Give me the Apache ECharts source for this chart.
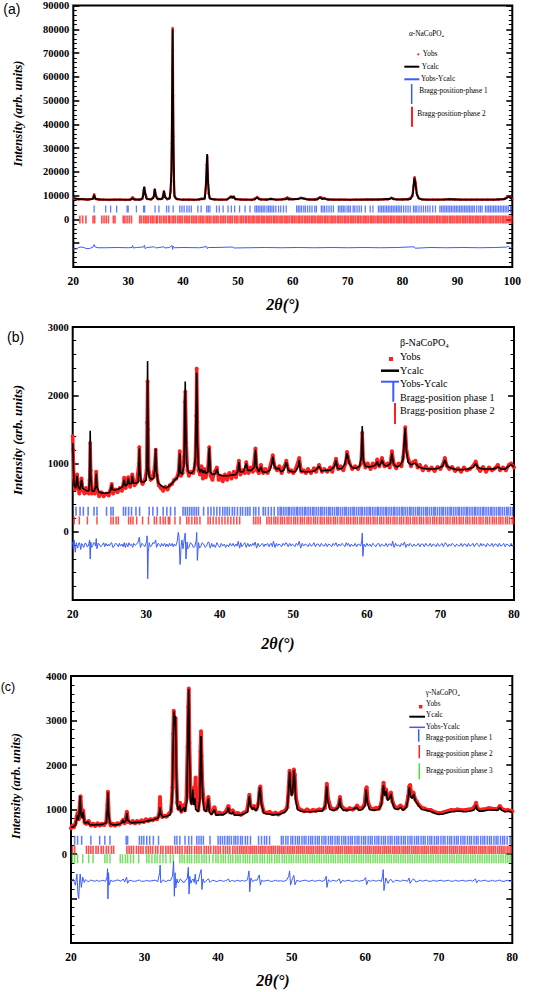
<!DOCTYPE html>
<html><head><meta charset="utf-8">
<script src="https://cdn.jsdelivr.net/npm/echarts@6/dist/echarts.min.js"></script>
<style>html,body{margin:0;padding:0;background:#fff}#c{width:543px;height:992px}</style>
</head><body><div id="c"></div>
<script>
// ---------------- Panel (a) alpha-NaCoPO4 ----------------
const aXMax = 100;
const aCalc = [[20,9000],[20.5,8800],[21,8600],[22,8500],[23,8400],[23.6,8700],[23.8,10400],[24.0,8700],[25,8400],[27,8300],[29,8300],[30.6,8400],[30.8,9000],[31.0,8400],[32.4,8400],[32.7,9500],[32.9,13700],[33.1,11000],[33.3,8800],[34.0,8400],[34.6,9000],[34.85,12900],[35.0,10500],[35.2,8800],[36.0,8500],[36.3,9000],[36.55,12000],[36.75,9200],[37.2,8600],[37.6,9000],[37.9,20000],[38.1,80000],[38.25,30000],[38.4,10000],[38.7,8700],[39.5,8400],[41,8300],[42.5,8300],[43.3,8600],[43.5,8400],[44.0,9000],[44.25,18000],[44.4,27500],[44.55,16000],[44.8,9000],[45.3,8500],[46.5,8300],[48.0,8400],[48.6,9200],[48.8,9600],[49.0,9000],[49.2,9600],[49.5,8600],[51,8300],[53.0,8300],[53.5,9300],[53.8,8500],[55.5,8400],[56,8600],[57,8300],[58.8,8500],[59.0,9100],[59.2,8400],[61.0,8600],[61.5,9000],[62.0,8800],[62.5,8400],[64.5,8400],[65.0,9300],[65.3,8600],[65.8,8800],[66.2,8400],[68,8300],[70,8300],[72,8300],[74,8400],[76,8400],[77.8,8700],[78.0,9000],[78.3,8500],[80,8400],[81.5,8600],[81.9,11000],[82.15,17500],[82.35,15000],[82.6,10500],[83.0,8800],[83.5,8400],[85,8300],[87,8300],[89,8500],[91,8300],[93,8300],[95,8300],[97,8400],[98.5,8500],[99.0,9000],[99.3,9600],[99.6,9200],[100,8500]];
const aObs = [[20,8900],[20.5,8600],[21,8400],[21.5,8600],[22,8500],[22.5,8300],[23,8500],[23.5,8700],[23.8,10600],[24.1,8600],[24.6,8300],[25.5,8400],[26.5,8200],[27.5,8300],[28.5,8400],[29.5,8200],[30.3,8300],[30.8,9300],[31.3,8400],[32.0,8300],[32.6,8700],[32.85,12500],[32.95,13400],[33.15,10500],[33.5,8600],[34.2,8400],[34.7,9800],[34.85,12600],[35.05,10000],[35.5,8500],[36.2,8700],[36.5,11800],[36.7,9600],[37.1,8500],[37.5,8800],[37.8,12000],[37.95,32000],[38.0,48000],[38.05,63000],[38.1,80500],[38.15,71000],[38.2,52000],[38.25,35000],[38.35,16000],[38.5,9500],[39.0,8500],[40.0,8300],[41.0,8400],[42.0,8200],[43.0,8400],[43.4,8800],[43.9,8600],[44.15,13000],[44.3,23000],[44.4,26500],[44.5,19000],[44.65,11000],[45.0,8700],[45.8,8400],[47.0,8300],[48.0,8400],[48.7,9700],[49.0,9200],[49.2,9700],[49.6,8500],[50.5,8300],[51.5,8400],[52.5,8200],[53.5,9400],[54.2,8400],[55.2,8300],[56.0,8700],[57.0,8300],[58.0,8400],[59.0,9200],[60.0,8500],[61.0,8700],[61.5,9100],[62.0,8900],[63.0,8400],[64.0,8300],[65.0,9400],[65.8,8900],[66.5,8400],[67.5,8300],[68.5,8400],[69.5,8300],[70.5,8200],[71.5,8400],[72.5,8300],[73.5,8400],[74.5,8300],[75.5,8400],[76.5,8500],[77.3,8400],[78.0,9100],[79.0,8400],[80.0,8500],[81.0,8400],[81.8,9800],[82.0,14000],[82.2,17800],[82.4,15500],[82.6,11000],[82.9,9000],[83.5,8500],[84.5,8300],[85.5,8400],[86.5,8300],[87.5,8400],[88.5,8600],[89.5,8400],[90.5,8300],[91.5,8400],[92.5,8300],[93.5,8400],[94.5,8300],[95.5,8400],[96.5,8300],[97.5,8400],[98.5,8600],[99.2,9700],[99.6,9300],[100,8600]];
const aDiff = [[20,-12300],[20.5,-12500],[21,-11800],[21.5,-11600],[22,-11900],[22.5,-12300],[23,-12200],[23.6,-11600],[23.8,-10600],[24.0,-11600],[24.5,-11900],[26,-11900],[28,-11800],[30,-11900],[30.7,-11800],[30.8,-11000],[30.95,-12000],[31.5,-11800],[32.8,-11600],[32.95,-10900],[33.1,-12300],[33.4,-11800],[34.8,-11500],[35,-12000],[36.5,-11500],[36.7,-12000],[37.5,-11800],[38.0,-11000],[38.1,-12600],[38.2,-11200],[38.4,-11900],[40,-11800],[43,-11900],[44.3,-11400],[44.45,-12300],[44.6,-11800],[46,-11800],[49,-11600],[49.3,-12000],[52,-11900],[55,-11800],[58,-11900],[61,-11800],[64,-11900],[67,-11800],[70,-11900],[73,-11800],[76,-11900],[79,-11800],[82.1,-11500],[82.3,-12100],[85,-11800],[88,-11900],[91,-11800],[94,-11900],[97,-11800],[99,-11600],[99.3,-11200],[99.6,-12000],[100,-11800]];
const aBragg1 = [23.8,25.9,26.8,27.9,29.8,30.0,31.5,32.8,33.0,34.9,35.6,37.0,37.4,38.2,39.4,39.8,40.2,40.7,41.1,41.5,42.7,43.3,44.3,44.6,44.9,46.1,46.6,47.3,48.2,48.8,49.4,50.3,51.3,52.2,53.1,53.4,53.7,54.0,54.3,54.6,54.9,55.3,55.6,55.9,56.2,56.5,56.9,57.4,57.8,58.3,58.8,60.7,61.0,61.3,61.6,62.0,62.3,62.7,63.1,63.5,64.0,64.3,65.2,65.5,65.8,66.2,66.6,67.0,67.4,68.3,68.6,68.9,69.2,69.5,69.9,70.2,70.5,71.0,71.3,71.7,72.1,72.5,73.2,74.1,74.6,75.6,75.9,76.2,76.5,76.8,77.1,77.4,77.7,78.0,78.3,78.6,78.9,79.2,79.5,79.8,80.2,80.6,81.0,81.4,82.0,82.3,82.6,83.0,83.4,83.8,84.2,84.6,85.0,85.5,86.0,86.8,87.1,87.4,87.7,88.0,88.3,88.6,88.9,89.2,89.5,89.8,90.1,90.4,90.7,91.0,91.3,91.6,91.9,92.2,92.5,92.8,93.1,93.5,93.9,94.2,94.5,95.1,95.4,95.7,96.0,96.3,96.6,96.9,97.2,97.5,97.8,98.1,98.4,98.7,99.0,99.3,99.7];
const aBragg2 = [21.2,21.7,22.3,23.6,23.9,25.2,25.6,26.0,26.4,27.3,27.6,29.1,29.4,29.8,30.2,30.6,32.1,32.4,32.8,33.1,33.4,33.7,34.1,34.4,34.7,35.1,35.3,35.7,36.0,36.4,36.7,37.0,37.4,37.6,38.0,38.3,38.6,39.0,39.3,39.6,39.9,40.3,40.6,40.9,41.2,41.6,41.9,42.2,42.5,42.9,43.2,43.5,43.8,44.2,44.5,44.8,45.1,45.5,45.8,46.1,46.4,46.8,47.1,47.4,47.7,48.1,48.4,48.7,49.0,49.4,49.7,50.0,50.4,50.7,51.0,51.35,51.6,51.95,52.2,52.55,52.8,53.1,53.45,53.7,54.0,54.35,54.6,54.9,55.25,55.5,55.8,56.1,56.45,56.7,57.0,57.3,57.65,57.9,58.2,58.55,58.8,59.1,59.4,59.75,60.0,60.3,60.6,60.95,61.2,61.5,61.8,62.15,62.4,62.7,63.0,63.35,63.6,63.9,64.2,64.55,64.8,65.1,65.4,65.75,66.0,66.3,66.6,66.95,67.2,67.5,67.8,68.15,68.4,68.7,69.0,69.35,69.6,69.9,70.2,70.55,70.8,71.1,71.4,71.75,72.0,72.3,72.6,72.95,73.2,73.5,73.8,74.15,74.4,74.7,75.0,75.35,75.6,75.9,76.2,76.55,76.8,77.1,77.4,77.75,78.0,78.3,78.6,78.95,79.2,79.5,79.8,80.15,80.4,80.7,81.0,81.35,81.6,81.9,82.2,82.55,82.8,83.1,83.4,83.75,84.0,84.3,84.6,84.95,85.2,85.5,85.8,86.15,86.4,86.7,87.0,87.35,87.6,87.9,88.2,88.55,88.8,89.1,89.4,89.75,90.0,90.3,90.6,90.95,91.2,91.5,91.8,92.15,92.4,92.7,93.0,93.35,93.6,93.9,94.2,94.55,94.8,95.1,95.4,95.75,96.0,96.3,96.6,96.95,97.2,97.5,97.8,98.15,98.4,98.7,99.0,99.35,99.6,99.9];

// ---------------- Panel (b) beta-NaCoPO4 ----------------
const bCalc = [[20.0,1300],[20.1,900],[20.2,680],[20.4,640],[20.6,820],[20.75,660],[21.0,620],[21.2,760],[21.35,640],[21.6,620],[21.9,600],[22.2,600],[22.3,800],[22.38,1480],[22.46,800],[22.6,600],[22.9,590],[23.1,650],[23.2,850],[23.3,650],[23.6,580],[24.0,570],[24.5,565],[25.0,575],[25.2,620],[25.3,690],[25.4,620],[25.8,610],[26.3,630],[26.8,660],[27.0,760],[27.15,670],[27.4,690],[27.55,780],[27.7,700],[28.0,710],[28.1,820],[28.25,710],[28.6,710],[28.9,730],[29.0,900],[29.06,1220],[29.13,900],[29.3,730],[29.7,730],[30.0,760],[30.1,950],[30.18,2500],[30.27,950],[30.4,800],[30.7,770],[31.0,780],[31.15,900],[31.28,1220],[31.38,900],[31.6,720],[32.0,680],[32.4,650],[32.7,645],[33.0,660],[33.3,690],[33.6,720],[33.9,760],[34.2,790],[34.4,830],[34.55,1150],[34.65,870],[34.9,840],[35.15,1000],[35.3,2200],[35.38,1500],[35.5,1000],[35.7,880],[35.9,860],[36.2,860],[36.5,900],[36.7,1100],[36.86,2330],[36.95,1300],[37.1,950],[37.3,870],[37.5,920],[37.7,860],[37.9,900],[38.1,850],[38.4,880],[38.57,1230],[38.7,880],[39.0,840],[39.4,850],[39.6,920],[39.8,840],[40.3,820],[41.0,820],[41.6,830],[42.2,840],[42.5,900],[42.6,1020],[42.75,880],[43.2,880],[43.6,1000],[43.8,900],[44.3,900],[44.7,950],[44.85,1200],[45.0,950],[45.3,880],[45.6,950],[45.8,880],[46.3,870],[46.8,900],[47.1,1000],[47.2,1100],[47.4,970],[47.7,920],[48.0,930],[48.3,880],[48.7,900],[49.05,1020],[49.3,900],[49.8,880],[50.3,880],[50.7,960],[50.8,1050],[50.95,890],[51.5,880],[52.2,880],[52.9,890],[53.5,960],[53.8,890],[54.4,900],[55.0,900],[55.6,960],[55.8,1050],[56.0,930],[56.5,920],[57.0,990],[57.3,1150],[57.6,1000],[58.0,940],[58.5,930],[59.0,960],[59.25,1100],[59.37,1550],[59.5,1050],[59.8,960],[60.3,950],[60.8,960],[61.2,980],[61.4,1030],[61.6,960],[61.9,1000],[62.05,1050],[62.3,980],[62.7,960],[63.2,1000],[63.4,1150],[63.6,1000],[64.0,950],[64.5,970],[64.9,1050],[65.1,1350],[65.2,1520],[65.35,1200],[65.6,1020],[66.0,980],[66.4,1000],[66.6,1000],[67.0,950],[67.6,930],[68.3,920],[69.0,920],[69.7,930],[70.3,960],[70.6,1050],[70.9,960],[71.5,930],[72.2,910],[73.0,910],[73.8,920],[74.5,950],[74.8,1000],[75.1,940],[75.8,920],[76.5,920],[77.3,920],[77.8,950],[78.2,920],[78.8,920],[79.3,960],[79.6,980],[80.0,950]];
const bObs = [[20.0,1400],[20.05,1200],[20.15,800],[20.3,620],[20.45,700],[20.6,840],[20.75,640],[20.9,560],[21.05,640],[21.2,780],[21.4,600],[21.6,560],[21.8,640],[22.0,580],[22.2,560],[22.3,760],[22.38,1300],[22.45,900],[22.6,560],[22.8,620],[23.0,560],[23.2,880],[23.35,600],[23.6,520],[23.9,580],[24.2,520],[24.6,560],[24.9,530],[25.1,600],[25.3,700],[25.5,560],[25.8,620],[26.1,580],[26.4,640],[26.7,600],[27.0,790],[27.2,640],[27.55,800],[27.8,660],[28.1,840],[28.4,680],[28.7,720],[29.0,1000],[29.06,1240],[29.2,760],[29.5,700],[29.8,760],[30.05,900],[30.12,1600],[30.18,2200],[30.25,1500],[30.35,880],[30.6,760],[30.9,800],[31.15,960],[31.28,1200],[31.45,820],[31.7,680],[32.0,640],[32.3,600],[32.6,660],[32.9,620],[33.2,680],[33.5,700],[33.8,760],[34.1,780],[34.4,880],[34.55,1180],[34.7,820],[34.95,860],[35.15,1100],[35.25,1900],[35.32,2050],[35.45,1300],[35.6,900],[35.8,820],[36.1,880],[36.4,860],[36.65,1000],[36.8,1700],[36.86,2390],[36.95,1600],[37.1,900],[37.3,840],[37.5,960],[37.7,780],[37.9,920],[38.1,800],[38.35,900],[38.57,1240],[38.75,820],[39.0,760],[39.3,880],[39.6,940],[39.85,760],[40.1,820],[40.4,740],[40.7,840],[41.0,760],[41.3,860],[41.6,780],[41.9,880],[42.2,800],[42.6,1040],[42.8,840],[43.1,900],[43.4,860],[43.6,1020],[43.9,860],[44.2,940],[44.5,880],[44.85,1220],[45.05,900],[45.3,860],[45.6,980],[45.9,860],[46.2,920],[46.5,860],[46.8,940],[47.2,1120],[47.5,940],[47.8,900],[48.1,960],[48.4,860],[48.7,940],[49.05,1040],[49.4,880],[49.7,900],[50.0,860],[50.3,920],[50.8,1080],[51.1,880],[51.4,900],[51.7,860],[52.0,920],[52.4,860],[52.8,930],[53.1,880],[53.5,980],[53.9,880],[54.2,920],[54.6,880],[55.0,940],[55.3,880],[55.8,1070],[56.1,920],[56.4,960],[56.8,900],[57.1,1000],[57.3,1170],[57.6,1020],[58.0,920],[58.4,960],[58.8,920],[59.2,1000],[59.37,1450],[59.5,1060],[59.8,940],[60.1,1000],[60.5,920],[60.8,1000],[61.1,940],[61.4,1060],[61.7,960],[62.05,1080],[62.4,960],[62.8,1000],[63.1,940],[63.4,1180],[63.7,980],[64.0,930],[64.3,1000],[64.7,960],[64.95,1100],[65.15,1400],[65.22,1530],[65.4,1180],[65.7,1040],[66.0,960],[66.3,1020],[66.6,1040],[66.9,940],[67.2,980],[67.6,900],[68.0,960],[68.4,900],[68.8,940],[69.2,890],[69.6,950],[70.0,920],[70.3,980],[70.6,1080],[70.9,960],[71.2,920],[71.6,950],[72.0,890],[72.4,930],[72.8,880],[73.2,940],[73.6,900],[74.0,920],[74.4,960],[74.8,1030],[75.1,930],[75.4,890],[75.8,950],[76.2,880],[76.6,940],[77.0,900],[77.4,930],[77.8,980],[78.1,900],[78.5,940],[78.9,900],[79.3,980],[79.6,1000],[80,940]];
const bDiff = [[20,-150],[20.1,-250],[20.2,-120],[20.35,-300],[20.5,-160],[20.6,-220],[20.7,-240],[20.8,-170],[20.9,-160],[21.0,-200],[21.1,-260],[21.2,-170],[21.3,-180],[21.4,-210],[21.5,-230],[21.65,-170],[21.8,-170],[21.95,-220],[22.1,-210],[22.2,-170],[22.3,-120],[22.38,-400],[22.46,-150],[22.55,-230],[22.7,-210],[22.85,-160],[23.0,-170],[23.1,-210],[23.2,-100],[23.3,-250],[23.45,-170],[23.6,-180],[23.8,-220],[24,-200],[24.2,-160],[24.35,-220],[24.5,-170],[24.7,-210],[24.85,-180],[25,-210],[25.15,-170],[25.3,-160],[25.45,-230],[25.6,-220],[25.8,-170],[26,-180],[26.2,-220],[26.35,-170],[26.5,-210],[26.7,-180],[26.85,-220],[27,-160],[27.15,-230],[27.3,-170],[27.5,-220],[27.65,-160],[27.8,-200],[28,-180],[28.15,-230],[28.3,-170],[28.5,-200],[28.7,-180],[28.9,-150],[29.06,-80],[29.2,-230],[29.4,-170],[29.6,-190],[29.8,-220],[29.95,-170],[30.05,-150],[30.12,-60],[30.2,-690],[30.28,-300],[30.4,-160],[30.55,-220],[30.7,-210],[30.9,-160],[31.1,-170],[31.28,-120],[31.4,-230],[31.6,-170],[31.8,-190],[31.95,-220],[32.1,-170],[32.3,-210],[32.5,-170],[32.65,-220],[32.8,-180],[33.0,-220],[33.15,-170],[33.3,-210],[33.5,-170],[33.65,-220],[33.8,-180],[34.0,-210],[34.2,-150],[34.35,-10],[34.45,-60],[34.6,-480],[34.75,-200],[34.85,-120],[35.0,-250],[35.2,-80],[35.3,-20],[35.4,-400],[35.55,-150],[35.65,-250],[35.8,-230],[36.0,-160],[36.2,-180],[36.4,-230],[36.6,-220],[36.8,-120],[36.86,-10],[36.95,-420],[37.1,-160],[37.25,-240],[37.4,-220],[37.6,-160],[37.8,-180],[38.0,-230],[38.2,-210],[38.35,-160],[38.5,-150],[38.7,-240],[38.9,-170],[39.05,-220],[39.2,-190],[39.4,-230],[39.6,-160],[39.8,-200],[40.0,-230],[40.2,-170],[40.4,-210],[40.6,-180],[40.8,-230],[41,-190],[41.2,-220],[41.4,-170],[41.6,-210],[41.8,-170],[42.0,-220],[42.2,-180],[42.35,-210],[42.5,-140],[42.7,-240],[42.85,-160],[43.0,-220],[43.2,-190],[43.4,-160],[43.6,-230],[43.8,-170],[44.0,-220],[44.15,-180],[44.3,-210],[44.5,-170],[44.65,-200],[44.8,-150],[45.0,-240],[45.2,-170],[45.4,-220],[45.6,-190],[45.8,-170],[46.0,-220],[46.15,-180],[46.3,-200],[46.5,-170],[46.7,-220],[46.85,-180],[47.0,-170],[47.15,-220],[47.3,-140],[47.5,-230],[47.7,-170],[47.85,-210],[48.0,-180],[48.2,-190],[48.4,-220],[48.6,-170],[48.8,-200],[49,-160],[49.15,-180],[49.3,-220],[49.5,-170],[49.7,-210],[49.85,-180],[50,-190],[50.2,-220],[50.4,-170],[50.6,-200],[50.8,-140],[51,-240],[51.2,-170],[51.4,-210],[51.6,-180],[51.8,-190],[52.0,-220],[52.2,-170],[52.4,-210],[52.6,-200],[52.8,-160],[53.0,-220],[53.2,-180],[53.4,-180],[53.6,-220],[53.8,-170],[54.0,-200],[54.2,-210],[54.4,-170],[54.6,-220],[54.8,-180],[55,-190],[55.2,-220],[55.4,-170],[55.6,-200],[55.8,-160],[56,-220],[56.2,-180],[56.4,-210],[56.6,-170],[56.8,-190],[57.0,-220],[57.2,-160],[57.35,-200],[57.5,-170],[57.7,-220],[57.9,-180],[58.0,-200],[58.2,-210],[58.4,-170],[58.6,-220],[58.8,-180],[59,-190],[59.15,-210],[59.3,-130],[59.37,-20],[59.45,-360],[59.6,-180],[59.8,-220],[60.0,-170],[60.2,-210],[60.4,-180],[60.6,-220],[60.8,-170],[61,-190],[61.2,-220],[61.4,-180],[61.6,-170],[61.8,-220],[62.0,-180],[62.2,-200],[62.4,-210],[62.6,-170],[62.8,-220],[63.0,-180],[63.2,-180],[63.35,-210],[63.5,-140],[63.7,-230],[63.9,-170],[64.1,-210],[64.3,-190],[64.5,-220],[64.7,-170],[64.9,-200],[65.1,-150],[65.3,-230],[65.5,-180],[65.7,-210],[65.85,-170],[66,-190],[66.2,-220],[66.4,-180],[66.6,-210],[66.8,-200],[67.0,-170],[67.2,-220],[67.4,-180],[67.6,-180],[67.8,-220],[68.0,-170],[68.2,-200],[68.4,-210],[68.6,-170],[68.8,-220],[69.0,-180],[69.2,-190],[69.4,-220],[69.6,-170],[69.8,-210],[70,-200],[70.2,-170],[70.4,-220],[70.55,-180],[70.7,-160],[71,-220],[71.2,-180],[71.4,-210],[71.6,-170],[71.8,-190],[72.0,-220],[72.2,-180],[72.4,-200],[72.6,-210],[72.8,-170],[73.0,-220],[73.2,-180],[73.4,-180],[73.6,-220],[73.8,-170],[74.0,-210],[74.2,-200],[74.4,-170],[74.6,-220],[74.8,-180],[75,-170],[75.15,-200],[75.3,-220],[75.5,-170],[75.7,-210],[75.85,-180],[76,-190],[76.2,-220],[76.4,-170],[76.6,-200],[76.8,-210],[77.0,-170],[77.2,-220],[77.4,-180],[77.6,-180],[77.8,-220],[78.0,-170],[78.2,-210],[78.4,-200],[78.6,-170],[78.8,-220],[79.0,-180],[79.2,-190],[79.4,-220],[79.6,-170],[79.8,-210],[80,-200]];
const bBragg1 = [20.45,21.0,21.45,22.1,22.9,23.3,24.6,25.2,25.5,26.9,27.2,27.6,28.0,28.6,29.1,30.4,30.9,31.5,32.3,32.8,33.3,33.9,35.0,35.3,35.6,35.9,36.2,36.5,36.8,37.1,37.8,38.4,38.8,39.2,39.6,40.0,40.4,40.7,41.0,41.3,41.7,42.0,42.4,42.8,43.1,43.5,43.8,44.1,44.6,44.9,45.3,45.9,46.2,46.6,47.0,47.4,47.9,48.2,48.4,48.7,49.0,49.3,49.5,49.8,50.1,50.4,50.6,50.9,51.2,51.5,51.7,52.0,52.3,52.6,52.8,53.1,53.4,53.7,53.9,54.2,54.5,54.8,55.0,55.3,55.6,55.9,56.1,56.4,56.7,57.0,57.2,57.5,57.8,58.1,58.3,58.6,58.9,59.2,59.4,59.7,60.0,60.3,60.5,60.8,61.1,61.4,61.6,61.9,62.2,62.5,62.7,63.0,63.3,63.6,63.8,64.1,64.4,64.7,64.9,65.2,65.5,65.8,66.0,66.3,66.6,66.9,67.1,67.4,67.7,68.0,68.2,68.5,68.8,69.1,69.3,69.6,69.9,70.2,70.4,70.7,71.0,71.3,71.5,71.8,72.1,72.4,72.6,72.9,73.2,73.5,73.7,74.0,74.3,74.6,74.8,75.1,75.4,75.7,75.9,76.2,76.5,76.8,77.0,77.3,77.6,77.9,78.1,78.4,78.7,79.0,79.2,79.5,79.8];
const bBragg2 = [20.2,20.9,22.0,23.3,25.2,25.5,25.9,26.2,27.6,27.9,28.2,28.7,29.5,30.3,31.1,31.4,31.9,32.3,32.6,33.0,33.2,33.9,34.6,35.5,35.8,36.2,36.6,36.9,37.3,38.4,38.7,39.1,39.5,39.9,40.3,40.7,41.1,41.5,41.9,42.3,42.7,44.6,44.9,45.2,45.5,46.4,46.7,47.0,47.35,47.6,47.9,48.25,48.5,48.8,49.15,49.4,49.7,50.05,50.3,50.6,50.95,51.2,51.5,51.85,52.1,52.4,52.75,53.0,53.3,53.65,53.9,54.2,54.55,54.8,55.1,55.45,55.7,56.0,56.35,56.6,56.9,57.25,57.5,57.8,58.15,58.4,58.7,59.05,59.3,59.6,59.95,60.2,60.5,60.85,61.1,61.4,61.75,62.0,62.3,62.65,62.9,63.2,63.55,63.8,64.1,64.45,64.7,65.0,65.35,65.6,65.9,66.25,66.5,66.8,67.15,67.4,67.7,68.05,68.3,68.6,68.95,69.2,69.5,69.85,70.1,70.4,70.75,71.0,71.3,71.65,71.9,72.2,72.55,72.8,73.1,73.45,73.7,74.0,74.35,74.6,74.9,75.25,75.5,75.8,76.15,76.4,76.7,77.05,77.3,77.6,77.95,78.2,78.5,78.85,79.1,79.4,79.75,79.95];

// ---------------- Panel (c) gamma-NaCoPO4 ----------------
const cCalc = [[20,600],[20.3,610],[20.6,650],[20.8,800],[20.9,880],[21.0,760],[21.15,1000],[21.25,1300],[21.35,900],[21.5,800],[21.65,950],[21.8,720],[22.0,690],[22.3,720],[22.5,660],[23,650],[23.6,660],[24.2,660],[24.8,700],[24.95,1000],[25.02,1380],[25.12,900],[25.3,680],[25.8,650],[26.4,660],[26.9,700],[27.05,760],[27.2,700],[27.5,760],[27.6,920],[27.7,760],[28.2,700],[29.0,710],[29.8,720],[30.6,750],[31.4,780],[31.9,820],[32.05,950],[32.12,1050],[32.2,900],[32.5,830],[33.0,850],[33.5,880],[33.75,1200],[33.9,2500],[34.0,3200],[34.1,2900],[34.2,3100],[34.3,2000],[34.45,1100],[34.6,980],[34.8,1100],[34.95,950],[35.2,1000],[35.35,1050],[35.5,950],[35.75,1200],[35.9,2800],[36.0,3700],[36.1,2300],[36.25,1200],[36.4,1100],[36.55,1450],[36.7,1100],[36.85,1250],[36.95,1000],[37.3,950],[37.5,1200],[37.62,2300],[37.68,2650],[37.8,1700],[37.95,1200],[38.1,1000],[38.4,950],[38.6,1150],[38.68,1250],[38.8,950],[39.1,880],[39.5,1000],[39.7,870],[40.2,880],[40.8,890],[41.25,950],[41.4,1050],[41.55,920],[41.9,900],[42.0,950],[42.2,880],[42.8,870],[43.4,890],[44.0,950],[44.15,1150],[44.25,1300],[44.4,1080],[44.7,1000],[44.85,1050],[45.1,970],[45.4,1050],[45.6,1400],[45.72,1500],[45.85,1150],[46.2,920],[46.8,900],[47.5,880],[48.3,890],[49.0,930],[49.4,1000],[49.6,1450],[49.72,1850],[49.85,1500],[50.0,1300],[50.15,1400],[50.3,1880],[50.4,1750],[50.55,1200],[50.8,1000],[51.3,960],[52.0,950],[52.8,950],[53.5,960],[54.2,970],[54.6,1100],[54.76,1520],[54.9,1200],[55.2,1000],[55.8,980],[56.4,1050],[56.55,1250],[56.7,1050],[57.0,980],[57.6,990],[58.3,1000],[58.9,1050],[59.1,980],[59.6,1000],[60.0,1100],[60.12,1450],[60.3,1150],[60.6,1000],[61.2,980],[61.8,1000],[62.2,1100],[62.4,1400],[62.48,1550],[62.65,1300],[62.85,1420],[63.05,1200],[63.3,1250],[63.5,1350],[63.7,1150],[64.0,1020],[64.5,1000],[64.8,1050],[65.1,980],[65.6,1050],[65.85,1250],[66.0,1500],[66.15,1300],[66.4,1250],[66.6,1350],[66.8,1200],[67.0,1150],[67.3,1080],[67.7,1000],[68.2,990],[68.8,960],[69.4,920],[70.0,890],[70.6,900],[71.2,930],[71.8,950],[72.4,960],[73.0,960],[73.6,950],[74.2,960],[74.8,990],[75.0,1050],[75.07,1100],[75.2,1000],[75.6,960],[76.2,970],[76.8,990],[77.4,990],[78.0,980],[78.3,1050],[78.5,990],[79.0,950],[79.5,960],[80,940]];
const cObs = [[20,580],[20.2,640],[20.4,600],[20.6,680],[20.8,850],[20.9,920],[21.05,780],[21.2,1150],[21.3,1300],[21.45,850],[21.65,980],[21.85,700],[22.1,680],[22.4,740],[22.7,640],[23.0,680],[23.3,630],[23.6,690],[23.9,640],[24.2,680],[24.5,650],[24.8,720],[24.95,1100],[25.02,1400],[25.15,800],[25.4,640],[25.7,680],[26.0,640],[26.3,690],[26.6,660],[26.9,720],[27.1,770],[27.3,690],[27.6,950],[27.8,720],[28.1,700],[28.4,740],[28.7,690],[29.0,740],[29.3,700],[29.6,760],[29.9,720],[30.2,780],[30.5,740],[30.8,780],[31.1,760],[31.4,800],[31.7,780],[32.0,900],[32.1,1280],[32.2,950],[32.4,830],[32.7,860],[33.0,840],[33.3,900],[33.6,960],[33.8,1500],[33.9,2700],[33.97,3220],[34.05,3000],[34.15,2800],[34.22,3050],[34.32,1800],[34.45,1150],[34.6,1020],[34.8,1150],[35.0,950],[35.2,1050],[35.35,1100],[35.5,980],[35.7,1250],[35.85,2400],[35.95,3300],[36.02,3720],[36.1,2500],[36.25,1300],[36.4,1150],[36.55,1480],[36.7,1150],[36.82,1400],[36.95,1720],[37.05,1100],[37.3,980],[37.5,1300],[37.6,2300],[37.68,2760],[37.75,2200],[37.85,1600],[38.0,1250],[38.2,1000],[38.4,980],[38.6,1180],[38.68,1280],[38.85,980],[39.1,920],[39.5,1050],[39.8,900],[40.2,930],[40.6,900],[41.0,940],[41.4,1080],[41.6,940],[42.0,980],[42.3,900],[42.7,920],[43.1,880],[43.5,930],[43.9,960],[44.15,1200],[44.25,1330],[44.4,1100],[44.7,1030],[44.9,1080],[45.2,1000],[45.5,1150],[45.65,1480],[45.75,1520],[45.9,1150],[46.2,950],[46.6,920],[47.0,950],[47.4,900],[47.8,930],[48.2,890],[48.6,940],[49.0,960],[49.4,1050],[49.6,1500],[49.72,1870],[49.85,1550],[50.0,1350],[50.15,1450],[50.3,1900],[50.42,1780],[50.6,1250],[50.9,1030],[51.3,990],[51.7,960],[52.1,1000],[52.5,960],[52.9,990],[53.3,970],[53.7,1000],[54.1,990],[54.5,1030],[54.65,1250],[54.78,1580],[54.95,1250],[55.3,1040],[55.7,1000],[56.1,1020],[56.4,1100],[56.57,1280],[56.75,1080],[57.1,1020],[57.5,990],[57.9,1030],[58.3,1000],[58.7,1040],[58.9,1090],[59.2,1010],[59.6,1040],[59.9,1100],[60.1,1450],[60.2,1500],[60.35,1180],[60.7,1030],[61.1,1010],[61.5,1040],[61.9,1020],[62.2,1150],[62.4,1450],[62.5,1600],[62.65,1350],[62.85,1450],[63.05,1250],[63.3,1280],[63.5,1380],[63.7,1180],[64.0,1060],[64.4,1030],[64.8,1090],[65.2,1010],[65.6,1080],[65.85,1300],[66.0,1520],[66.12,1550],[66.3,1300],[66.55,1380],[66.8,1230],[67.0,1180],[67.3,1100],[67.7,1040],[68.1,1020],[68.5,990],[68.9,990],[69.3,950],[69.7,930],[70.1,920],[70.5,930],[70.9,950],[71.3,970],[71.7,990],[72.1,980],[72.5,1000],[72.9,990],[73.3,980],[73.7,990],[74.1,1000],[74.5,1010],[74.9,1070],[75.07,1150],[75.25,1030],[75.6,990],[76.0,1000],[76.4,1010],[76.8,1030],[77.2,1020],[77.6,1010],[78.0,1010],[78.3,1080],[78.55,1020],[79.0,980],[79.4,990],[79.8,970],[80,960]];
const cDiff = [[20,-620],[20.15,-590],[20.3,-560],[20.45,-640],[20.6,-700],[20.8,-450],[20.95,-900],[21.05,-1000],[21.15,-650],[21.25,-450],[21.4,-750],[21.6,-520],[21.8,-640],[21.95,-580],[22.1,-590],[22.3,-620],[22.5,-610],[22.7,-585],[23,-600],[23.25,-615],[23.5,-590],[23.75,-610],[24,-610],[24.25,-590],[24.5,-600],[24.7,-615],[24.9,-520],[24.97,-330],[25.02,-1010],[25.1,-420],[25.2,-700],[25.4,-590],[25.7,-615],[26,-600],[26.25,-585],[26.5,-590],[26.8,-615],[27.1,-560],[27.3,-630],[27.55,-520],[27.7,-660],[27.9,-590],[28.2,-600],[28.6,-615],[29,-600],[29.3,-585],[29.6,-615],[30,-610],[30.3,-590],[30.6,-612],[31,-600],[31.4,-588],[31.8,-620],[32.05,-420],[32.12,-250],[32.2,-650],[32.5,-580],[32.75,-615],[33,-610],[33.25,-590],[33.5,-600],[33.8,-500],[33.95,-160],[34.05,-950],[34.15,-420],[34.25,-760],[34.4,-560],[34.55,-650],[34.7,-620],[34.85,-560],[35,-580],[35.2,-630],[35.4,-640],[35.6,-580],[35.8,-560],[35.95,-300],[36.05,-900],[36.15,-500],[36.3,-660],[36.45,-590],[36.6,-560],[36.75,-640],[36.9,-450],[37.0,-680],[37.15,-590],[37.3,-610],[37.6,-400],[37.7,-350],[37.8,-800],[37.95,-560],[38.1,-640],[38.3,-620],[38.5,-580],[38.7,-560],[38.9,-640],[39.2,-590],[39.5,-600],[39.75,-620],[40,-610],[40.25,-590],[40.5,-600],[40.75,-615],[41,-600],[41.2,-590],[41.4,-560],[41.6,-630],[41.8,-595],[42,-600],[42.3,-615],[42.6,-590],[43,-610],[43.3,-595],[43.6,-612],[44,-580],[44.2,-380],[44.3,-850],[44.45,-540],[44.7,-620],[45.0,-585],[45.3,-590],[45.6,-470],[45.75,-700],[45.9,-590],[46.2,-612],[46.5,-600],[46.8,-588],[47.1,-615],[47.5,-610],[47.8,-590],[48.1,-610],[48.5,-600],[48.9,-615],[49.3,-590],[49.6,-500],[49.72,-380],[49.85,-700],[50.1,-560],[50.3,-480],[50.45,-690],[50.7,-590],[51.1,-615],[51.5,-600],[51.9,-588],[52.2,-612],[52.5,-610],[52.8,-590],[53.1,-612],[53.5,-600],[53.8,-590],[54.1,-615],[54.5,-590],[54.7,-500],[54.8,-750],[55,-580],[55.3,-620],[55.6,-590],[55.8,-600],[56.1,-612],[56.5,-560],[56.65,-660],[56.9,-590],[57.2,-612],[57.5,-600],[57.8,-588],[58.1,-615],[58.5,-610],[58.8,-590],[59.1,-612],[59.5,-600],[59.8,-590],[60.05,-530],[60.2,-690],[60.4,-590],[60.7,-615],[61.0,-590],[61.2,-600],[61.5,-612],[61.8,-590],[62,-600],[62.2,-615],[62.35,-500],[62.45,-350],[62.55,-820],[62.8,-540],[63.1,-660],[63.3,-590],[63.5,-570],[63.8,-640],[64.1,-590],[64.5,-600],[64.8,-615],[65.1,-588],[65.5,-600],[65.75,-612],[65.95,-540],[66.1,-660],[66.35,-590],[66.6,-560],[66.9,-630],[67.2,-610],[67.5,-590],[67.8,-612],[68,-600],[68.3,-588],[68.6,-612],[69,-610],[69.3,-590],[69.6,-612],[70,-600],[70.3,-588],[70.6,-612],[71,-600],[71.3,-590],[71.6,-612],[72,-610],[72.3,-590],[72.6,-612],[73,-600],[73.3,-588],[73.6,-612],[74,-600],[74.3,-590],[74.6,-612],[75,-560],[75.15,-650],[75.4,-590],[75.7,-612],[76,-600],[76.3,-588],[76.6,-612],[77,-610],[77.3,-590],[77.6,-612],[78,-600],[78.3,-585],[78.6,-615],[79,-610],[79.3,-590],[79.6,-612],[80,-600]];
const cBragg1 = [20.5,20.9,21.45,22.7,23.9,24.6,25.3,27.5,27.7,29.3,29.6,29.9,30.3,30.7,31.2,31.9,34.1,34.4,34.8,35.5,36.0,36.4,37.1,37.4,37.7,38.0,38.9,40.0,40.3,40.6,40.9,41.25,41.5,41.8,42.15,42.4,42.7,43.05,43.3,43.7,44.0,44.4,45.5,45.9,46.3,46.6,47.0,48.6,48.85,49.2,49.5,49.9,50.15,50.5,50.8,51.05,51.4,51.7,51.95,52.3,52.6,52.85,53.2,53.5,53.75,54.1,54.4,54.65,55.0,55.3,55.55,55.9,56.2,56.45,56.8,57.1,57.35,57.7,58.0,58.25,58.6,58.9,59.15,59.5,59.8,60.05,60.4,60.7,60.95,61.3,61.6,61.85,62.2,62.5,62.75,63.1,63.4,63.65,64.0,64.3,64.55,64.9,65.2,65.45,65.8,66.1,66.35,66.7,67.0,67.25,67.6,67.9,68.15,68.5,68.8,69.05,69.4,69.7,69.95,70.3,70.6,70.85,71.2,71.5,71.75,72.1,72.4,72.65,73.0,73.3,73.55,73.9,74.2,74.45,74.8,75.1,75.35,75.7,76.0,76.25,76.6,76.9,77.15,77.5,77.8,78.05,78.4,78.7,78.95,79.3,79.7];
const cBragg2 = [20.2,20.5,22.1,22.4,22.7,23.0,23.4,23.7,24.1,24.4,24.8,25.1,25.5,25.8,27.6,27.9,28.2,28.5,28.9,29.2,29.5,29.8,30.2,30.5,30.8,31.1,31.5,31.8,32.2,32.5,32.9,33.2,33.5,33.8,34.2,34.5,34.8,35.1,35.5,35.8,36.1,36.4,36.8,37.1,37.4,37.7,38.1,38.4,38.7,39.0,39.4,39.7,40.0,40.3,40.7,41.0,41.3,41.6,42.0,42.3,42.6,42.9,43.15,43.4,43.65,43.9,44.2,44.45,44.7,44.95,45.2,45.5,45.75,46.0,46.25,46.5,46.8,47.05,47.3,47.55,47.8,48.1,48.35,48.6,48.85,49.1,49.4,49.65,49.9,50.15,50.4,50.7,50.95,51.2,51.45,51.7,52.0,52.25,52.5,52.75,53.0,53.3,53.55,53.8,54.05,54.3,54.6,54.85,55.1,55.35,55.6,55.9,56.15,56.4,56.65,56.9,57.2,57.45,57.7,57.95,58.2,58.5,58.75,59.0,59.25,59.5,59.8,60.05,60.3,60.55,60.8,61.1,61.35,61.6,61.85,62.1,62.4,62.65,62.9,63.15,63.4,63.7,63.95,64.2,64.45,64.7,65.0,65.25,65.5,65.75,66.0,66.3,66.55,66.8,67.05,67.3,67.6,67.85,68.1,68.35,68.6,68.9,69.15,69.4,69.65,69.9,70.2,70.45,70.7,70.95,71.2,71.5,71.75,72.0,72.25,72.5,72.8,73.05,73.3,73.55,73.8,74.1,74.35,74.6,74.85,75.1,75.4,75.65,75.9,76.15,76.4,76.7,76.95,77.2,77.45,77.7,78.0,78.25,78.5,78.75,79.0,79.3,79.55,79.8];
const cBragg3 = [20.2,20.5,20.9,21.6,22.4,23.0,24.6,24.9,25.3,26.7,27.0,27.4,27.7,28.1,28.5,29.2,30.3,30.6,31.0,31.4,31.7,32.1,32.5,32.9,33.5,33.9,34.8,35.1,35.4,35.8,36.1,36.4,36.8,37.1,37.4,37.8,38.1,38.4,38.8,39.3,39.7,40.0,40.4,40.7,41.0,41.4,41.7,42.0,42.4,42.7,43.0,43.4,43.7,44.0,44.3,44.7,45.0,45.3,45.7,46.0,46.3,46.7,47.0,47.3,47.7,48.0,48.3,48.7,49.0,49.3,49.65,49.95,50.25,50.6,50.9,51.2,51.55,51.85,52.15,52.5,52.8,53.1,53.45,53.75,54.05,54.4,54.7,55.0,55.35,55.65,55.95,56.3,56.6,56.9,57.25,57.55,57.85,58.2,58.5,58.8,59.15,59.45,59.75,60.1,60.4,60.7,61.05,61.35,61.65,62.0,62.3,62.6,62.95,63.25,63.55,63.9,64.2,64.5,64.85,65.15,65.45,65.8,66.1,66.4,66.75,67.05,67.35,67.7,68.0,68.3,68.65,68.95,69.25,69.6,69.9,70.2,70.55,70.85,71.15,71.5,71.8,72.1,72.45,72.75,73.05,73.4,73.7,74.0,74.35,74.65,74.95,75.3,75.6,75.9,76.25,76.55,76.85,77.2,77.5,77.8,78.15,78.45,78.75,79.1,79.4,79.7];

// ---------------- styles ----------------
const SERIF = '"Liberation Serif","DejaVu Serif",serif';
const SANS = '"Liberation Sans","DejaVu Sans",sans-serif';
const RED = '#ff1f1f', BLUE = '#3a5cff', GREEN = '#55d63c', BLACK = '#000';

const grids = [
  {left: 73.3, top: 5.5, width: 439, height: 261.5},
  {left: 72.7, top: 327, width: 441.3, height: 273},
  {left: 71, top: 676, width: 441.3, height: 267}
].map(g => Object.assign({show: true, borderColor: '#000', borderWidth: 2, backgroundColor: 'transparent'}, g));

function xAx(gi, max) {
  return {type: 'value', gridIndex: gi, min: 20, max: max, interval: 10,
    axisLine: {show: false}, axisTick: {show: false}, splitLine: {show: false},
    axisLabel: {color: BLACK, fontFamily: SERIF, fontWeight: 'bold', fontSize: 11.5, margin: 8}};
}
function yAx(gi, min, max, interval, pos) {
  return {type: 'value', gridIndex: gi, min: min, max: max, interval: interval, position: pos,
    axisLine: {show: false}, splitLine: {show: false},
    axisTick: {show: true, inside: true, length: 6, lineStyle: {color: BLACK, width: 1.6}},
    minorTick: {show: true, splitNumber: 5, length: 3.5, lineStyle: {color: BLACK, width: 1}},
    axisLabel: {show: pos === 'left', color: BLACK, fontFamily: SERIF, fontWeight: 'bold', fontSize: 10.5, margin: 4,
      formatter: v => (v < 0 ? '' : String(v))}};
}
function obsS(data, gi, yi, sz, w) {
  return {type: 'line', xAxisIndex: gi, yAxisIndex: yi, data: data, symbol: 'circle', symbolSize: sz,
    showSymbol: true, showAllSymbol: true, itemStyle: {color: RED}, lineStyle: {color: RED, width: w}, z: 2, silent: true};
}
function lineS(data, gi, yi, color, w, z) {
  return {type: 'line', xAxisIndex: gi, yAxisIndex: yi, data: data, symbol: 'none', lineStyle: {color: color, width: w}, z: z, silent: true};
}
function braggS(list, gi, yi, center, h, color, w) {
  return {type: 'scatter', xAxisIndex: gi, yAxisIndex: yi, data: list.map(v => [v, center]), symbol: 'rect',
    symbolSize: [w, h], itemStyle: {color: color}, z: 1, silent: true};
}

function txt(x, y, s, font, align, rot) {
  const o = {type: 'text', x: x, y: y, silent: true, z: 100,
    style: {text: s, font: font, fill: BLACK, align: align || 'left', verticalAlign: 'middle'}};
  if (rot) o.rotation = rot;
  return o;
}
function ln(x1, y1, x2, y2, color, w) {
  return {type: 'line', silent: true, z: 100, shape: {x1: x1, y1: y1, x2: x2, y2: y2}, style: {stroke: color, lineWidth: w}};
}
function sq(cx, cy, s, color) {
  return {type: 'rect', silent: true, z: 100, shape: {x: cx - s / 2, y: cy - s / 2, width: s, height: s}, style: {fill: color}};
}

const fa = '7.3px ' + SERIF, fb = '10.2px ' + SERIF, fc = '7.2px ' + SERIF;
const titleFont = 'italic bold 12.5px ' + SERIF;
const xTitleFont = 'italic bold 16px ' + SERIF;

const graphic = [
  // panel labels
  txt(3.3, 8.5, '(a)', '14px ' + SANS), txt(7, 336.7, '(b)', '14px ' + SANS), txt(0.7, 687.3, '(c)', '12.5px ' + SANS),
  // y titles
  txt(18, 113.5, 'Intensity (arb. units)', titleFont, 'center', Math.PI / 2),
  txt(17.7, 440, 'Intensity (arb. units)', 'italic bold 13px ' + SERIF, 'center', Math.PI / 2),
  txt(16, 786, 'Intensity (arb. units)', titleFont, 'center', Math.PI / 2),
  // x titles
  txt(283, 304, '2θ(°)', xTitleFont, 'center'),
  txt(278, 643, '2θ(°)', xTitleFont, 'center'),
  txt(273, 980, '2θ(°)', xTitleFont, 'center'),
  // legend a
  txt(409, 33.3, 'α-NaCoPO₄', fa),
  {type: 'circle', silent: true, z: 100, shape: {cx: 418.3, cy: 54.3, r: 1}, style: {fill: RED}},
  txt(422.7, 53.3, 'Yobs', fa),
  ln(404.3, 66.7, 419.3, 66.7, BLACK, 2), txt(421.7, 66, 'Ycalc', fa),
  ln(404.3, 79.3, 419.3, 79.3, BLUE, 2), txt(421, 78.7, 'Yobs-Ycalc', fa),
  ln(411.7, 84, 411.7, 104, BLUE, 1.5), txt(419.3, 90.7, 'Bragg-position-phase 1', fa),
  ln(412, 106.7, 412, 126.7, RED, 2), txt(417.3, 113.7, 'Bragg-position-phase 2', fa),
  // legend b
  txt(400, 342.7, 'β-NaCoPO₄', fb),
  sq(391, 359, 4, RED), txt(400, 356.7, 'Yobs', fb),
  ln(381, 370.7, 399, 370.7, BLACK, 2.5), txt(400, 370, 'Ycalc', fb),
  ln(381, 381.7, 399, 381.7, BLUE, 2), txt(400, 383, 'Yobs-Ycalc', fb),
  ln(393.3, 381.7, 393.3, 401.7, BLUE, 2), txt(400, 397.3, 'Bragg-position phase 1', fb),
  ln(395, 403, 395, 424, RED, 2), txt(400, 410.7, 'Bragg-position phase 2', fb),
  // legend c
  txt(425.7, 693.3, 'γ-NaCoPO₄', fc),
  sq(420.7, 706.7, 3.5, RED), txt(426, 704.3, 'Yobs', fc),
  ln(409.3, 716.7, 425, 716.7, BLACK, 2), txt(426, 715, 'Ycalc', fc),
  ln(409.3, 727.3, 425, 727.3, BLUE, 1.5), txt(426, 726.7, 'Yobs-Ycalc', fc),
  ln(418.7, 729.3, 418.7, 741.7, BLUE, 1.5), txt(425.7, 738.3, 'Bragg-position phase 1', fc),
  ln(419.3, 745, 419.3, 758.3, RED, 1.5), txt(426, 754.3, 'Bragg-position phase 2', fc),
  ln(419.3, 763.3, 419.3, 779.3, GREEN, 1.5), txt(426, 771, 'Bragg-position phase 3', fc)
];

const option = {
  animation: false,
  backgroundColor: '#fff',
  grid: grids,
  xAxis: [xAx(0, aXMax), xAx(1, 80), xAx(2, 80)],
  yAxis: [
    yAx(0, -20000, 90000, 10000, 'left'), yAx(0, -20000, 90000, 10000, 'right'),
    yAx(1, -1000, 3000, 1000, 'left'), yAx(1, -1000, 3000, 1000, 'right'),
    yAx(2, -2000, 4000, 1000, 'left'), yAx(2, -2000, 4000, 1000, 'right')
  ],
  series: [
    braggS(aBragg1, 0, 0, 4400, 7, BLUE, 1.3),
    braggS(aBragg2, 0, 0, 0, 8, RED, 1.6),
    obsS(aObs, 0, 0, 2.5, 2.2),
    lineS(aCalc, 0, 0, BLACK, 1.8, 3),
    lineS(aDiff, 0, 0, BLUE, 1, 3),

    braggS(bBragg1, 1, 2, 300, 9, BLUE, 1.6),
    braggS(bBragg2, 1, 2, 165, 8, RED, 1.5),
    obsS(bObs, 1, 2, 4, 3.4),
    lineS(bCalc, 1, 2, BLACK, 1.6, 3),
    lineS(bDiff, 1, 2, BLUE, 1, 3),

    braggS(cBragg1, 2, 4, 308, 9, BLUE, 1.5),
    braggS(cBragg2, 2, 4, 94, 8.3, RED, 1.6),
    braggS(cBragg3, 2, 4, -108, 9, GREEN, 1.5),
    obsS(cObs, 2, 4, 4, 3.8),
    lineS(cCalc, 2, 4, BLACK, 1.6, 3),
    lineS(cDiff, 2, 4, BLUE, 1, 3)
  ],
  graphic: graphic
};

const chart = echarts.init(document.getElementById('c'), null, {renderer: 'svg', width: 543, height: 992});
chart.setOption(option);
</script>
</body></html>
